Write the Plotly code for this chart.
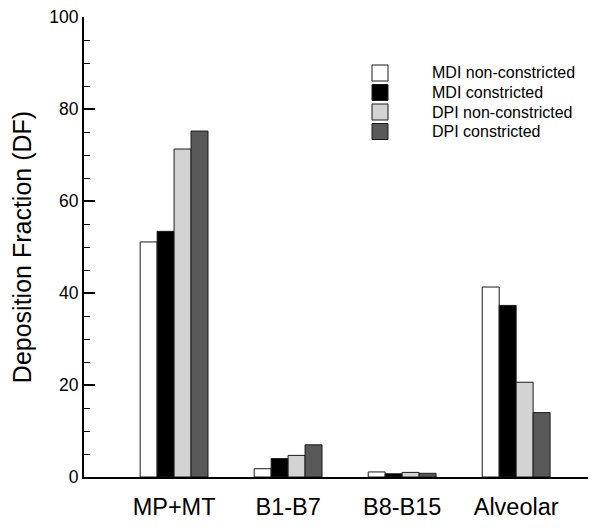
import plotly.graph_objects as go

categories = ["MP+MT", "B1-B7", "B8-B15", "Alveolar"]
series_names = ["MDI non-constricted", "MDI constricted", "DPI non-constricted", "DPI constricted"]
mdi_non = [51.1, 1.8, 1.1, 41.3]
mdi_con = [53.4, 4.0, 0.7, 37.3]
dpi_non = [71.3, 4.7, 1.0, 20.6]
dpi_con = [75.2, 7.0, 0.8, 14.0]
series_values = [mdi_non, mdi_con, dpi_non, dpi_con]
colors = ["#ffffff", "#000000", "#d3d3d3", "#595959"]
y_ticks = [0, 20, 40, 60, 80, 100]

FONT = "Arial, Liberation Sans, sans-serif"

# The page body has an 8px default margin, so the figure is placed 8px in/down.
OFF = 8
W, H = 601 - OFF, 528 - OFF
ML, MR, MT, MB = 84 - OFF, 13, 17 - OFF, 51
PW, PH = W - ML - MR, H - MT - MB

def px_to_paper(px, py):
    # px, py are page pixel coordinates of the reference
    fx, fy = px - OFF, py - OFF
    return (fx - ML) / PW, (H - MB - fy) / PH

fig = go.Figure()
for name, vals, col in zip(series_names, series_values, colors):
    fig.add_trace(go.Bar(
        x=categories, y=vals, name=name,
        marker=dict(color=col, line=dict(color="#1a1a1a", width=1)),
    ))

# manual legend (boxes + labels) to match the reference's compact layout
legend_rows_y = [73, 92.5, 112, 131.5]
for name, col, ry in zip(series_names, colors, legend_rows_y):
    x0, y0 = px_to_paper(372, ry + 8)
    x1, y1 = px_to_paper(388, ry - 8)
    fig.add_shape(type="rect", xref="paper", yref="paper", x0=x0, x1=x1, y0=y0, y1=y1,
                  fillcolor=col, line=dict(color="#1a1a1a", width=1))
    tx, ty = px_to_paper(430, ry)
    fig.add_annotation(xref="paper", yref="paper", x=tx, y=ty, xanchor="left", yanchor="middle",
                       text=name, showarrow=False, font=dict(size=16, family=FONT, color="black"))

fig.update_layout(
    width=W, height=H,
    margin=dict(l=ML, r=MR, t=MT, b=MB),
    paper_bgcolor="white", plot_bgcolor="white",
    barmode="group", bargap=0.405, bargroupgap=0,
    font=dict(family=FONT, color="black"),
    showlegend=False,
    xaxis=dict(
        range=[-0.79, 3.63], showline=True, linecolor="black", linewidth=2,
        ticks="", showgrid=False, zeroline=False, automargin=False,
        ticklabelstandoff=8, ticklabeloverflow="allow",
        tickfont=dict(size=23.5, family=FONT, color="black"),
    ),
    yaxis=dict(
        range=[0, 100], showline=True, linecolor="black", linewidth=2,
        tickvals=y_ticks, ticks="inside", ticklen=11, tickwidth=2, tickcolor="black",
        minor=dict(dtick=5, ticks="inside", ticklen=6, tickwidth=1, tickcolor="black"),
        showgrid=False, zeroline=False, automargin=False, ticklabeloverflow="allow",
        tickfont=dict(size=17.5, family=FONT, color="black"),
        title=dict(text="Deposition Fraction (DF)", font=dict(size=25, family=FONT, color="black"), standoff=17),
    ),
)

fig.write_html("out.html")
